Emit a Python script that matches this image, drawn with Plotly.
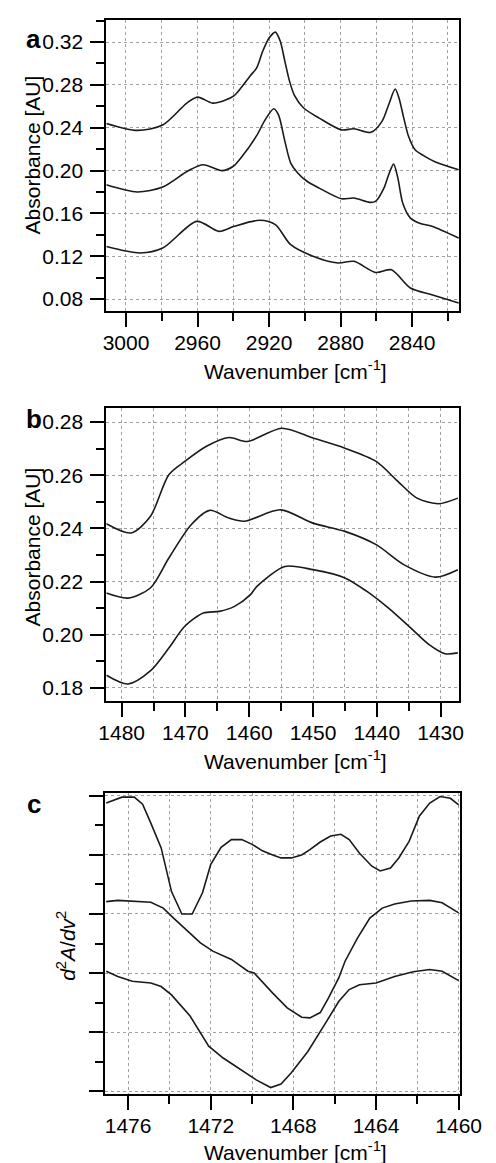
import plotly.graph_objects as go

W, H = 496, 1163

# ---------- Panel a (C-H stretching region) ----------
a_top_x = [3011, 2993.7, 2979.5, 2966, 2960, 2951.6, 2945, 2939.5, 2935.8, 2930.5, 2927, 2923.5, 2920,
           2916.5, 2913.8, 2911.2, 2908.6, 2905.9, 2900.7, 2892, 2879.6, 2872.6, 2863, 2856.8, 2853.2,
           2849.5, 2847.4, 2844.7, 2842.1, 2838.4, 2833.2, 2827, 2814]
a_top_y = [0.244, 0.2375, 0.2425, 0.263, 0.2686, 0.263, 0.2655, 0.270, 0.277, 0.2886, 0.2957, 0.3116,
           0.3237, 0.3293, 0.3209, 0.3022, 0.2836, 0.2705, 0.2584, 0.249, 0.238, 0.239, 0.2357, 0.2462,
           0.2612, 0.2761, 0.2677, 0.249, 0.2322, 0.2194, 0.2135, 0.208, 0.2007]

a_mid_x = [3011, 2993.7, 2979.5, 2965, 2956.8, 2946.3, 2940, 2935.8, 2926.8, 2922.6, 2917.4, 2914.7,
           2911.2, 2907.9, 2904, 2899, 2892, 2879.6, 2872.6, 2863.8, 2860.5, 2855.8, 2853.2, 2850.4,
           2848, 2845.3, 2841, 2835.8, 2829, 2814]
a_mid_y = [0.1867, 0.18, 0.1846, 0.2, 0.2054, 0.1999, 0.204, 0.2117, 0.233, 0.2462, 0.2577, 0.2518,
           0.2275, 0.207, 0.1977, 0.1902, 0.1836, 0.1737, 0.1743, 0.1703, 0.1712, 0.1836, 0.1958, 0.206,
           0.1929, 0.1696, 0.1556, 0.1508, 0.148, 0.137]

a_bot_x = [3011, 2992, 2979.5, 2960.4, 2948, 2939.5, 2925.3, 2916.5, 2907.9, 2895.5, 2881.4, 2872.6,
           2860.4, 2851.6, 2841, 2829, 2814]
a_bot_y = [0.129, 0.123, 0.1276, 0.1525, 0.1432, 0.1479, 0.1535, 0.1494, 0.1307, 0.12, 0.1137, 0.1152,
           0.1048, 0.1073, 0.0903, 0.084, 0.0762]

# ---------- Panel b (CH2 scissoring region) ----------
b_top_x = [1482.4, 1478.5, 1475.5, 1472.6, 1470.1, 1466.7, 1463.2, 1460.3, 1454.9, 1450, 1445, 1440.1,
           1436.7, 1433.7, 1430.3, 1427.3]
b_top_y = [0.2418, 0.2383, 0.2445, 0.2602, 0.2652, 0.2709, 0.2742, 0.2727, 0.2777, 0.274, 0.2702, 0.2652,
           0.2577, 0.2514, 0.2493, 0.2514]

b_mid_x = [1482.4, 1479, 1475.5, 1472.6, 1469.1, 1466.2, 1463.2, 1460.8, 1455.1, 1450, 1445, 1440.1,
           1435.7, 1430.8, 1427.3]
b_mid_y = [0.2157, 0.2138, 0.2176, 0.2289, 0.2414, 0.2468, 0.2439, 0.2427, 0.247, 0.242, 0.2389, 0.2339,
           0.2263, 0.2217, 0.2245]

b_bot_x = [1482.4, 1479, 1475.5, 1472.6, 1470.1, 1467.2, 1464.7, 1462.3, 1459.8, 1458.8, 1454.4, 1450,
           1445, 1441.6, 1438.2, 1434.7, 1431.8, 1429.3, 1427.3]
b_bot_y = [0.1848, 0.1815, 0.1864, 0.195, 0.2032, 0.2082, 0.2088, 0.2107, 0.2151, 0.2182, 0.2257, 0.2245,
           0.2214, 0.2164, 0.2101, 0.2026, 0.1963, 0.1929, 0.1932]

# ---------- Panel c (second derivative) ----------
c_top_x = [1477.06, 1476.3, 1475.7, 1475.3, 1474.9, 1474.4, 1473.9, 1473.4, 1472.9, 1472.4, 1472.0,
           1471.5, 1471.0, 1470.5, 1470.0, 1469.5, 1469.0, 1468.6, 1468.1, 1467.6, 1467.2, 1466.7, 1466.2,
           1465.7, 1465.3, 1464.8, 1464.2, 1463.8, 1463.3, 1462.9, 1462.4, 1461.9, 1461.4, 1460.9, 1460.4,
           1460.0]
c_top_y = [4.88, 4.98, 4.98, 4.86, 4.54, 4.12, 3.38, 3.0, 3.0, 3.36, 3.84, 4.13, 4.26, 4.26, 4.18, 4.07,
           4.0, 3.95, 3.95, 4.0, 4.09, 4.22, 4.32, 4.35, 4.26, 4.03, 3.81, 3.73, 3.78, 3.95, 4.23, 4.66,
           4.88, 4.99, 4.96, 4.85]

c_mid_x = [1477.06, 1476.5, 1474.9, 1474.3, 1473.8, 1473.2, 1472.5, 1471.9, 1471.0, 1470.2, 1469.9,
           1469.0, 1468.3, 1467.6, 1467.2, 1466.7, 1466.3, 1465.8, 1465.5, 1464.9, 1464.3, 1463.7, 1463.1,
           1462.3, 1461.4, 1460.8, 1460.0]
c_mid_y = [3.21, 3.23, 3.2, 3.1, 2.93, 2.73, 2.51, 2.37, 2.23, 2.03, 2.0, 1.66, 1.41, 1.25, 1.24, 1.33,
           1.58, 1.92, 2.2, 2.59, 2.93, 3.1, 3.17, 3.22, 3.23, 3.19, 3.02]

c_bot_x = [1477.06, 1476.5, 1475.8, 1474.9, 1474.4, 1473.9, 1473.0, 1472.1, 1471.4, 1470.5, 1469.8,
           1469.1, 1468.6, 1468.1, 1467.3, 1466.5, 1465.8, 1465.3, 1464.8, 1464.0, 1463.1, 1462.2, 1461.4,
           1460.8, 1460.0]
c_bot_y = [2.03, 1.94, 1.86, 1.83, 1.77, 1.63, 1.27, 0.76, 0.56, 0.36, 0.19, 0.06, 0.12, 0.31, 0.67,
           1.12, 1.52, 1.72, 1.8, 1.83, 1.94, 2.02, 2.06, 2.03, 1.87]

FONT = "Arial, Liberation Sans, Helvetica, sans-serif"
LINE = dict(color="#1a1a1a", width=1.6)


def px(x):
    return x / W


def py(y):
    return 1 - y / H


fig = go.Figure()
for xs, ys in [(a_top_x, a_top_y), (a_mid_x, a_mid_y), (a_bot_x, a_bot_y)]:
    fig.add_trace(go.Scatter(x=xs, y=ys, mode="lines", line=dict(shape="spline", smoothing=0.8, **LINE),
                             xaxis="x", yaxis="y", showlegend=False))
for xs, ys in [(b_top_x, b_top_y), (b_mid_x, b_mid_y), (b_bot_x, b_bot_y)]:
    fig.add_trace(go.Scatter(x=xs, y=ys, mode="lines", line=dict(shape="spline", smoothing=0.8, **LINE),
                             xaxis="x2", yaxis="y2", showlegend=False))
for xs, ys in [(c_top_x, c_top_y), (c_mid_x, c_mid_y), (c_bot_x, c_bot_y)]:
    fig.add_trace(go.Scatter(x=xs, y=ys, mode="lines", line=LINE,
                             xaxis="x3", yaxis="y3", showlegend=False))

GRID = dict(gridcolor="#a0a0a0", griddash="dot", gridwidth=1)


def axis(**kw):
    d = dict(showline=True, linecolor="black", linewidth=2, mirror=True, ticks="outside", ticklen=14,
             tickwidth=1.8, tickcolor="black", zeroline=False, showgrid=True,
             tickfont=dict(size=21, family=FONT, color="black"), **GRID)
    d.update(kw)
    return d


def minor(dtick, grid):
    return dict(dtick=dtick, ticks="outside", ticklen=8, tickwidth=1.8, tickcolor="black",
                showgrid=grid, **GRID)


fig.update_layout(
    width=W, height=H, margin=dict(l=0, r=0, t=0, b=0),
    paper_bgcolor="white", plot_bgcolor="white",
    xaxis=axis(domain=[px(97), px(472)], range=[3011, 2813.6], tick0=2840, dtick=40,
               minor=minor(20, True), anchor="y", ticklabelstandoff=-2),
    yaxis=axis(domain=[py(303), py(12)], range=[0.0688, 0.3406], tick0=0.08, dtick=0.04,
               tickformat=".2f", minor=minor(0.02, False), anchor="x", ticklabelstandoff=3),
    xaxis2=axis(domain=[px(97), px(472)], range=[1482.4, 1427.05], tick0=1430, dtick=10,
                minor=minor(5, True), anchor="y2", ticklabelstandoff=-2),
    yaxis2=axis(domain=[py(693), py(400)], range=[0.1751, 0.2853], tick0=0.18, dtick=0.02,
                tickformat=".2f", minor=minor(0.01, False), anchor="x2", ticklabelstandoff=3),
    xaxis3=axis(domain=[px(96), px(473)], range=[1477.1, 1459.92], tick0=1460, dtick=4,
                minor=minor(2, True), anchor="y3", ticklabelstandoff=-2),
    yaxis3=axis(domain=[py(1086), py(785)], range=[-0.05, 5.05], tick0=0, dtick=1,
                showticklabels=False, minor=minor(0.5, False), anchor="x3"),
)

ann = []
TF = dict(size=21, family=FONT, color="black")
for yb, off in [(303, 59), (693, 59), (1086, 57)]:
    ann.append(dict(x=px(298), y=py(yb + off), xref="paper", yref="paper", showarrow=False,
                    text="Wavenumber [cm<sup>-1</sup>]", font=TF, xanchor="center", yanchor="middle"))
for yc in [147, 539]:
    ann.append(dict(x=px(18.5), y=py(yc), xref="paper", yref="paper", showarrow=False,
                    text="Absorbance [AU]", font=TF, textangle=-90, xanchor="center", yanchor="middle"))
ann.append(dict(x=px(54), y=py(938), xref="paper", yref="paper", showarrow=False,
                text="<i>d</i><sup>2</sup><i>A</i>/<i>dv</i><sup>2</sup>", font=TF, textangle=-90,
                xanchor="center", yanchor="middle"))
for lbl, yc in [("a", 31), ("b", 411), ("c", 796)]:
    ann.append(dict(x=px(20), y=py(yc), xref="paper", yref="paper", showarrow=False,
                    text="<b>%s</b>" % lbl, font=dict(size=26, family=FONT, color="black"),
                    xanchor="center", yanchor="middle"))
fig.update_layout(annotations=ann)

fig.write_html("out.html")
